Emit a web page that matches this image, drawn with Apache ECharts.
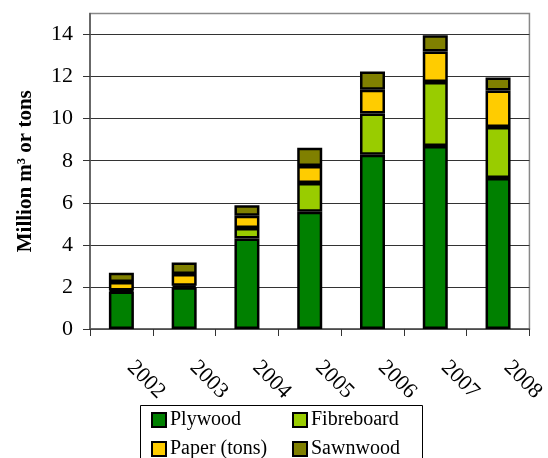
<!DOCTYPE html>
<html><head><meta charset="utf-8">
<script src="https://cdn.jsdelivr.net/npm/echarts@6/dist/echarts.min.js"></script>
<style>html,body{margin:0;padding:0;background:#fff}#c{width:548px;height:458px}</style>
</head><body><div id="c"></div>
<script>
const years = ['2002','2003','2004','2005','2006','2007','2008'];
const plywood = [1.78, 1.98, 4.30, 5.57, 8.29, 8.70, 7.18];
const fibreboard = [0.05, 0.08, 0.50, 1.37, 1.95, 3.04, 2.42];
const paper = [0.40, 0.55, 0.58, 0.81, 1.14, 1.45, 1.74];
const sawnwood = [0.44, 0.55, 0.50, 0.87, 0.86, 0.78, 0.62];
const yTicks = [0, 2, 4, 6, 8, 10, 12, 14];
const seriesNames = ['Plywood', 'Fibreboard', 'Paper (tons)', 'Sawnwood'];
const seriesColors = ['#008000', '#99CC00', '#FFCC00', '#808000'];
const seriesData = [plywood, fibreboard, paper, sawnwood];

const FONT = '"Liberation Serif", "DejaVu Serif", serif';
const chart = echarts.init(document.getElementById('c'), null, {renderer: 'canvas'});
const legendPos = [
  {left: 151, top: 410}, {left: 292, top: 410},
  {left: 151, top: 439}, {left: 292, top: 439}
];
chart.setOption({
  animation: false,
  backgroundColor: '#fff',
  grid: {left: 90, right: 15, top: 13.5, bottom: 129, show: true, borderColor: '#888', borderWidth: 1.5, backgroundColor: '#fff'},
  xAxis: {
    type: 'category', data: years,
    axisLine: {lineStyle: {color: '#555', width: 1.5}},
    axisTick: {show: true, length: 7, lineStyle: {color: '#333'}},
    axisLabel: {rotate: -45, margin: 26, padding: [0, 0, 0, 13], color: '#000', fontFamily: FONT, fontSize: 22}
  },
  yAxis: {
    type: 'value', min: 0, max: 15, interval: 2,
    name: 'Million m³ or tons', nameLocation: 'middle', nameGap: 54,
    nameTextStyle: {fontFamily: FONT, fontSize: 21, fontWeight: 'bold', color: '#000'},
    axisLine: {show: true, lineStyle: {color: '#555', width: 1.5}},
    axisTick: {show: true, length: 7, customValues: yTicks, lineStyle: {color: '#333'}},
    axisLabel: {customValues: yTicks, margin: 17, color: '#000', fontFamily: FONT, fontSize: 22},
    splitLine: {show: true, lineStyle: {color: '#333', width: 1}}
  },
  legend: seriesNames.map((n, i) => ({
    data: [n], left: legendPos[i].left, top: legendPos[i].top,
    itemWidth: 14, itemHeight: 14, itemGap: 4, icon: 'rect', padding: 0,
    textStyle: {fontFamily: FONT, fontSize: 20, color: '#000', padding: [0, 0, 0, -1]}
  })),
  graphic: [{type: 'rect', shape: {x: 140.5, y: 405.5, width: 282, height: 60},
    style: {fill: 'none', stroke: '#000', lineWidth: 1}, z: -1}],
  series: seriesNames.map((n, i) => ({
    name: n, type: 'bar', stack: 'total', data: seriesData[i], barWidth: 25,
    itemStyle: {color: seriesColors[i], borderColor: '#000', borderWidth: 2.5}
  }))
});
</script></body></html>
